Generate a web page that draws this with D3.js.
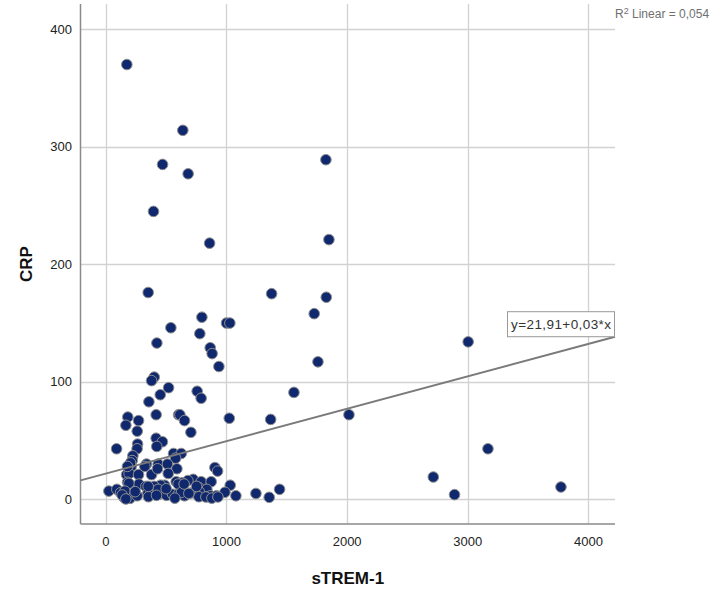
<!DOCTYPE html>
<html>
<head>
<meta charset="utf-8">
<script src="https://cdn.jsdelivr.net/npm/d3@7"></script>
<style>
  body { margin: 0; background: #fff; }
  svg { display: block; font-family: "Liberation Sans", Arial, sans-serif; }
</style>
</head>
<body>
<div id="chart"></div>
<script>
// sTREM-1 values (x) and CRP values (y)
const strem = [
  174, 638, 470, 682, 1824, 395, 860, 1849, 351, 1374, 1827, 1727, 796, 1000, 1028, 539,
  779, 423, 1758, 865, 881, 937, 401, 379, 520, 757, 451, 790, 357, 1559, 1023, 1366,
  417, 603, 614, 182, 271, 652, 166, 260, 705, 417, 469, 422, 263, 259, 89, 224,
  218, 561, 625, 578, 434, 511, 337, 210, 904, 926, 589, 172, 193, 271, 379, 517,
  180, 274, 583, 724, 680, 790, 873, 633, 487, 1031, 453, 332, 401, 771, 837, 25,
  91, 122, 152, 199, 260, 348, 439, 503, 553, 600, 652, 713, 774, 771, 843, 868,
  918, 987, 1078, 1244, 1354, 1440, 2015, 2714, 2890, 3167, 3772, 3003, 205, 323, 428, 179,
  191, 158, 135, 166, 434, 500, 599, 627, 649, 688, 572, 353, 420, 243, 351, 752,
  829, 879, 929
];
const crp = [
  370, 314, 285, 277, 289, 245, 218, 221, 176, 175, 172, 158, 155, 150, 150, 146,
  141, 133, 117, 129, 124, 113, 104, 101, 95, 92, 89, 86, 83, 91, 69, 68,
  72, 72, 72, 70, 67, 67, 63, 58, 57, 52, 49, 45, 47, 43, 43, 37,
  33, 39, 39, 35, 30, 30, 30, 28, 27, 24, 26, 21, 22, 21, 21, 22,
  14.5, 13, 15, 17, 16, 15, 15, 14, 12, 12, 12, 11, 11, 10, 8.5, 7,
  8.5, 5.6, 1.4, 0.8, 3, 5, 4.3, 3.4, 4.3, 4.3, 3, 5.6, 6.5, 2.2, 2.2, 3,
  3, 6, 3, 5, 1.7, 8.5, 72, 19, 4, 43, 10.5, 134, 31, 28, 26, 28,
  13.6, 7, 3.7, 0.3, 8.5, 9, 13, 6, 13, 5, 1, 2.2, 3.4, 6.5, 11, 11,
  2, 1, 2
];

const xTicks = [0, 1000, 2000, 3000, 4000];
const yTicks = [0, 100, 200, 300, 400];
const xDomain = [-210, 4220];
const yDomain = [-21, 421.5];

// fit line as drawn (label shows rounded coefficients)
const fitIntercept = 21.91;
const fitSlope = 0.0276;
const fitLabel = 'y=21,91+0,03*x';
const r2Label = '0,054';

const width = 720;
const height = 590;
const plotLeft = 80.5, plotRight = 615, plotTop = 4, plotBottom = 524;

const svg = d3.select('#chart')
  .append('svg')
  .attr('width', width)
  .attr('height', height);

const xScale = d3.scaleLinear().domain(xDomain).range([plotLeft, plotRight]);
const yScale = d3.scaleLinear().domain(yDomain).range([plotBottom, plotTop]);

// grid
const grid = svg.append('g').classed('grid', true);
grid.selectAll('line.gx')
  .data(xTicks)
  .enter()
  .append('line')
  .attr('x1', d => Math.round(xScale(d)) + 0.5)
  .attr('x2', d => Math.round(xScale(d)) + 0.5)
  .attr('y1', plotTop)
  .attr('y2', plotBottom)
  .attr('stroke', '#d2d2d2')
  .attr('stroke-width', 1.3);
grid.selectAll('line.gy')
  .data(yTicks)
  .enter()
  .append('line')
  .attr('x1', plotLeft)
  .attr('x2', plotRight)
  .attr('y1', d => Math.round(yScale(d)) + 0.5)
  .attr('y2', d => Math.round(yScale(d)) + 0.5)
  .attr('stroke', '#d2d2d2')
  .attr('stroke-width', 1.3);

// axes (only lines + labels, no ticks)
svg.append('line')
  .attr('x1', plotLeft).attr('x2', plotLeft)
  .attr('y1', plotTop).attr('y2', plotBottom)
  .attr('stroke', '#8a8a8a').attr('stroke-width', 1.5);
svg.append('line')
  .attr('x1', plotLeft).attr('x2', plotRight)
  .attr('y1', plotBottom).attr('y2', plotBottom)
  .attr('stroke', '#8a8a8a').attr('stroke-width', 1.5);

svg.append('g')
  .selectAll('text')
  .data(yTicks)
  .enter()
  .append('text')
  .attr('x', 72)
  .attr('y', d => yScale(d) + 4.5)
  .attr('text-anchor', 'end')
  .attr('font-size', 13)
  .attr('fill', '#222')
  .text(d => d);

svg.append('g')
  .selectAll('text')
  .data(xTicks)
  .enter()
  .append('text')
  .attr('x', d => xScale(d))
  .attr('y', 546)
  .attr('text-anchor', 'middle')
  .attr('font-size', 13)
  .attr('fill', '#222')
  .text(d => d);

// axis titles
svg.append('text')
  .attr('transform', `translate(32, ${(plotTop + plotBottom) / 2}) rotate(-90)`)
  .attr('text-anchor', 'middle')
  .attr('font-size', 17)
  .attr('font-weight', 'bold')
  .attr('fill', '#111')
  .text('CRP');

svg.append('text')
  .attr('x', (plotLeft + plotRight) / 2)
  .attr('y', 584)
  .attr('text-anchor', 'middle')
  .attr('font-size', 17)
  .attr('font-weight', 'bold')
  .attr('fill', '#111')
  .text('sTREM-1');

// points
const points = strem.map((x, i) => ({ x, y: crp[i] }));
svg.append('g')
  .classed('points', true)
  .selectAll('circle')
  .data(points)
  .enter()
  .append('circle')
  .attr('cx', d => xScale(d.x))
  .attr('cy', d => yScale(d.y))
  .attr('r', 5.3)
  .attr('fill', '#10296e')
  .attr('stroke', '#8f8f8f')
  .attr('stroke-width', 1);

// fit line
const line = d3.line()
  .x(d => xScale(d))
  .y(d => yScale(fitIntercept + fitSlope * d));
svg.append('path')
  .datum(xDomain)
  .attr('d', line)
  .attr('fill', 'none')
  .attr('stroke', '#7a7a7a')
  .attr('stroke-width', 2);

// fit label box
const endY = yScale(fitIntercept + fitSlope * xDomain[1]);
const boxW = 107, boxH = 25;
const box = svg.append('g').attr('transform', `translate(${plotRight - boxW - 0.5}, ${endY - boxH})`);
box.append('rect')
  .attr('width', boxW)
  .attr('height', boxH)
  .attr('fill', '#fff')
  .attr('stroke', '#999')
  .attr('stroke-width', 1);
box.append('text')
  .attr('x', boxW / 2)
  .attr('y', 17.5)
  .attr('text-anchor', 'middle')
  .attr('font-size', 13.5)
  .attr('textLength', 100)
  .attr('fill', '#333')
  .text(fitLabel);

// R2 label
const r2 = svg.append('text')
  .attr('x', 615)
  .attr('y', 18)
  .attr('font-size', 12)
  .attr('fill', '#707070');
r2.append('tspan').text('R');
r2.append('tspan').attr('dy', -4.5).attr('font-size', 9).text('2');
r2.append('tspan').attr('dy', 4.5).text(' Linear = ' + r2Label);
</script>
</body>
</html>
